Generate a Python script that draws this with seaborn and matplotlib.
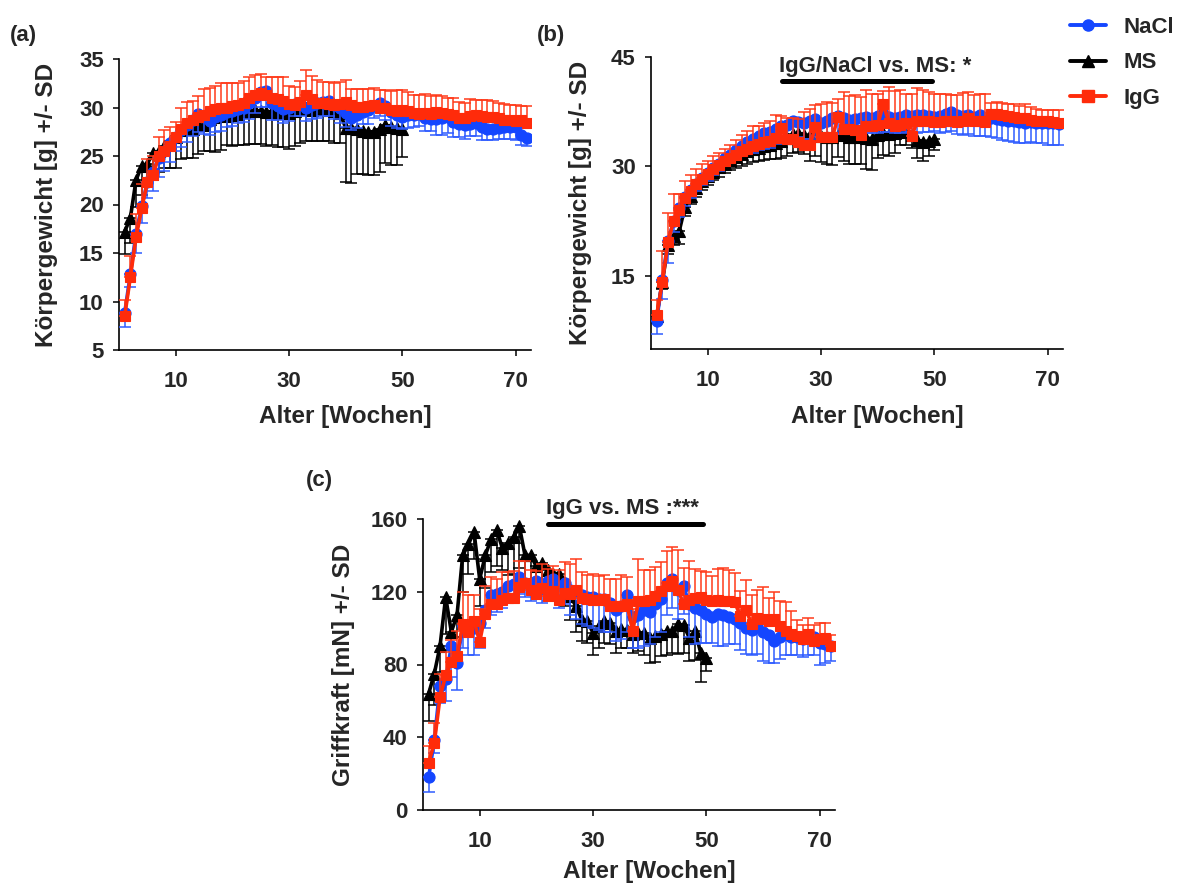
import numpy as np
import pandas as pd
import seaborn as sns
import matplotlib
matplotlib.use("Agg")
import matplotlib.pyplot as plt
from matplotlib.lines import Line2D

# ---------------- data ----------------
weeks = list(range(1, 73))
weeks_ms = list(range(1, 51))

# panel (a) body weight
a_nacl = [8.8, 12.8, 17.0, 19.8, 22.3, 23.4, 24.8, 25.5, 26.3, 27.0,
          27.7, 28.2, 28.7, 29.3, 29.0, 28.6, 29.0, 29.2, 29.5, 29.6,
          29.8, 30.0, 30.5, 31.0, 31.6, 31.7, 30.5, 30.2, 29.8, 29.9,
          30.4, 30.5, 30.0, 30.3, 30.5, 30.6, 30.7, 30.3, 29.9, 29.4,
          28.9, 29.2, 29.5, 29.7, 30.2, 30.5, 30.2, 29.5, 29.2, 29.0,
          29.2, 29.2, 29.3, 28.9, 28.8, 28.8, 28.9, 29.0, 28.5, 28.3,
          28.2, 28.3, 28.4, 28.0, 27.8, 27.8, 27.9, 28.0, 28.0, 28.0,
          27.2, 26.9]
a_nacl_err = [1.4, 1.3, 2.0, 1.7, 1.6, 2.0, 2.0, 2.0, 1.9, 1.5,
              1.8, 1.8, 1.6, 1.8, 1.7, 1.4, 1.5, 1.6, 1.5, 1.5,
              1.4, 1.5, 1.7, 1.6, 1.5, 1.6, 1.8, 1.5, 1.4, 1.3,
              1.3, 1.4, 1.4, 1.5, 1.6, 1.5, 1.6, 1.5, 1.5, 1.4,
              1.2, 1.3, 1.2, 1.4, 1.3, 1.4, 1.5, 1.4, 1.3, 1.2,
              1.3, 1.2, 1.2, 1.3, 1.2, 1.6, 1.7, 1.6, 1.5, 1.3,
              1.4, 1.2, 1.3, 1.3, 1.1, 1.2, 1.1, 1.2, 1.2, 1.3,
              1.1, 0.9]
a_ms = [17.2, 18.6, 22.5, 24.0, 24.2, 25.3, 25.5, 26.0, 26.5, 27.0,
        27.7, 28.0, 27.8, 28.2, 28.2, 28.8, 29.0, 29.2, 29.1, 29.2,
        29.3, 29.5, 29.6, 29.7, 29.6, 29.5, 29.6, 29.4, 29.5, 29.4,
        29.6, 29.8, 30.0, 29.7, 29.8, 29.8, 29.7, 29.6, 29.4, 27.9,
        27.9, 27.8, 27.6, 27.5, 27.5, 27.8, 28.2, 28.0, 27.9, 27.8]
a_ms_err = [2.3, 2.6, 2.8, 3.0, 1.8, 2.8, 2.2, 2.2, 2.7, 3.2,
            3.0, 3.2, 3.0, 3.0, 2.7, 3.3, 3.6, 3.6, 3.0, 3.2,
            3.2, 3.4, 3.4, 3.5, 3.4, 3.5, 3.5, 3.5, 3.6, 3.7,
            3.6, 3.5, 3.5, 3.2, 3.3, 3.3, 3.2, 3.3, 3.1, 5.6,
            5.7, 4.7, 4.5, 4.5, 4.5, 4.5, 3.9, 3.9, 3.8, 2.9]
a_igg = [8.5, 12.5, 16.6, 19.6, 22.3, 23.0, 25.0, 25.5, 26.0, 27.0,
         27.8, 28.4, 28.7, 29.0, 29.2, 29.6, 29.8, 30.0, 30.0, 30.2,
         30.3, 30.5, 31.0, 31.3, 31.5, 31.3, 31.0, 30.9, 30.7, 30.4,
         30.3, 30.6, 31.3, 30.9, 30.5, 30.5, 30.4, 30.3, 30.4, 30.6,
         30.3, 30.1, 30.1, 30.2, 30.3, 30.0, 29.9, 29.7, 29.6, 29.7,
         29.6, 29.4, 29.3, 29.4, 29.3, 29.5, 29.4, 29.3, 29.2, 28.9,
         28.9, 29.1, 29.2, 29.1, 29.0, 29.0, 28.9, 28.7, 28.7, 28.6,
         28.7, 28.4]
a_igg_err = [1.7, 2.2, 2.4, 2.5, 2.4, 2.0, 2.0, 2.2, 2.0, 1.5,
             2.2, 2.2, 2.0, 2.2, 2.7, 2.4, 2.4, 2.5, 2.5, 2.3,
             2.2, 2.2, 2.1, 2.1, 2.0, 1.8, 2.1, 2.2, 2.4, 1.8,
             1.8, 2.1, 2.6, 2.3, 2.3, 2.1, 2.2, 2.2, 2.2, 2.2,
             1.6, 1.8, 1.8, 1.7, 1.7, 1.8, 1.9, 2.0, 2.2, 2.1,
             2.0, 1.9, 2.0, 2.0, 1.9, 1.8, 1.8, 1.7, 1.8, 1.7,
             1.6, 1.8, 1.6, 1.7, 1.8, 1.7, 1.6, 1.7, 1.6, 1.7,
             1.5, 1.8]

# panel (b) body weight
b_nacl = [8.9, 14.5, 19.8, 22.5, 24.3, 25.8, 26.8, 27.6, 28.4, 29.1,
          29.8, 30.4, 31.1, 31.6, 32.2, 32.8, 33.3, 33.8, 34.2, 34.6,
          34.7, 35.1, 35.6, 35.7, 36.2, 36.1, 35.9, 36.2, 36.5, 36.0,
          36.3, 36.6, 36.9, 36.7, 36.4, 36.5, 36.6, 36.8, 36.6, 36.9,
          37.2, 36.8, 36.6, 36.8, 37.0, 36.9, 37.0, 37.1, 36.9, 36.8,
          36.9, 37.2, 37.4, 37.1, 36.9, 37.0, 36.8, 37.0, 36.7, 36.6,
          36.5, 36.4, 36.3, 36.2, 36.1, 36.0, 36.1, 36.0, 36.0, 35.9,
          35.9, 35.8]
b_nacl_err = [1.8, 2.6, 3.0, 1.5, 1.2, 1.2, 1.1, 1.0, 1.0, 1.1,
              1.0, 1.0, 1.0, 1.0, 1.0, 1.2, 1.5, 2.0, 2.0, 2.2,
              2.2, 2.0, 2.2, 2.0, 2.2, 2.0, 2.1, 2.4, 2.5, 2.0,
              2.3, 2.4, 2.5, 2.3, 2.0, 1.9, 2.0, 2.2, 2.0, 2.3,
              2.5, 2.1, 2.0, 2.2, 2.3, 2.3, 2.4, 2.4, 2.2, 2.0,
              2.3, 2.5, 2.6, 2.6, 2.6, 2.6, 2.6, 2.8, 2.5, 2.5,
              2.6, 2.8, 2.8, 2.8, 2.9, 2.8, 2.8, 2.8, 2.8, 2.9,
              2.9, 2.9]
b_ms = [9.5, 14.2, 19.2, 20.5, 21.2, 24.5, 26.0, 27.0, 28.0, 28.7,
        29.3, 29.9, 30.4, 30.9, 31.3, 31.7, 32.1, 32.4, 32.6, 32.8,
        33.0, 33.2, 33.5, 33.9, 34.4, 34.6, 34.3, 34.3, 34.5, 34.2,
        34.1, 34.0, 34.3, 34.4, 34.1, 34.0, 34.2, 33.9, 33.8, 34.3,
        34.6, 34.5, 34.6, 34.7, 34.8, 34.3, 33.6, 33.4, 33.5, 33.8]
b_ms_err = [1.0, 1.0, 1.2, 1.3, 1.8, 1.3, 1.2, 1.2, 1.2, 1.2,
            1.2, 1.3, 1.3, 1.4, 1.5, 1.6, 1.7, 1.8, 1.8, 1.9,
            2.0, 2.2, 2.3, 2.5, 2.6, 2.6, 2.6, 3.5, 3.0, 3.6,
            3.8, 3.8, 3.0, 3.6, 3.8, 3.6, 3.8, 4.2, 4.3, 3.2,
            3.0, 3.0, 2.8, 1.8, 1.8, 1.8, 2.5, 2.6, 2.0, 1.5]
b_igg = [9.6, 14.2, 19.6, 22.6, 24.0, 25.7, 26.7, 27.6, 28.3, 29.0,
         29.6, 30.2, 30.7, 31.2, 31.6, 32.1, 32.4, 32.8, 33.1, 33.4,
         33.5, 33.9, 35.3, 33.8, 33.7, 33.4, 32.9, 32.9, 35.4, 34.0,
         34.0, 34.0, 36.8, 35.2, 35.1, 35.0, 34.3, 35.5, 35.6, 35.7,
         38.6, 35.9, 35.5, 35.7, 35.9, 34.2, 36.2, 36.3, 36.2, 36.1,
         36.1, 36.2, 36.3, 36.1, 36.3, 36.6, 36.3, 36.2, 36.1, 37.2,
         37.2, 37.1, 36.9, 36.8, 36.6, 36.6, 36.4, 36.3, 36.2, 36.2,
         36.1, 36.0]
b_igg_err = [2.1, 4.2, 4.0, 3.7, 2.3, 2.3, 2.1, 2.0, 2.0, 1.8,
             1.8, 1.7, 1.7, 1.8, 2.0, 2.2, 2.5, 2.8, 2.5, 2.6,
             2.8, 3.2, 1.6, 2.8, 3.0, 3.1, 4.5, 5.0, 3.0, 4.5,
             4.8, 4.7, 2.5, 5.0, 4.5, 4.8, 5.2, 5.0, 4.4, 4.3,
             1.8, 5.0, 4.8, 4.8, 4.0, 5.8, 4.5, 4.2, 4.0, 3.8,
             3.8, 3.8, 3.5, 3.7, 3.8, 3.6, 3.5, 3.8, 3.8, 1.5,
             1.6, 1.6, 1.7, 1.8, 1.7, 2.0, 1.8, 1.6, 1.5, 1.6,
             1.6, 1.7]

# panel (c) grip strength
c_nacl = [18, 38.5, 68, 72, 90, 81, 101, 99, 100, 103,
          110, 118, 119, 120, 123, 124, 128, 125, 124, 126,
          124, 126, 127, 123, 125, 121, 120, 118, 117, 117,
          116, 116, 114, 110, 112, 118, 106, 107, 110, 109,
          113, 116, 125, 127, 121, 123, 113, 111, 110, 108,
          106, 108, 107, 106, 105, 103, 100, 99, 101, 98,
          96, 93, 95, 97, 95, 95, 94, 95, 95, 92,
          91, 90]
c_nacl_err = [8, 7, 9, 12, 17, 15, 12, 14, 15, 14,
              10, 11, 10, 9, 9, 9, 9, 8, 9, 8,
              10, 11, 12, 12, 12, 14, 15, 16, 16, 17,
              17, 18, 16, 17, 18, 20, 17, 18, 20, 18,
              18, 18, 18, 16, 16, 15, 18, 20, 18, 16,
              14, 18, 17, 15, 14, 15, 14, 14, 15, 16,
              15, 12, 12, 12, 10, 10, 10, 10, 10, 12,
              10, 8]
c_ms = [64, 75, 90, 117, 98, 107, 140, 146, 153, 127,
        140, 149, 154, 144, 147, 150, 156, 140, 140, 134,
        136, 132, 130, 130, 125, 117.5, 112, 104.7, 103.8, 97.4,
        101, 103.8, 103, 98.4, 99.3, 99, 96.5, 97.4, 97.4, 94.7,
        95.6, 96.5, 98.4, 98.4, 102, 101.5, 94.7, 98.4, 86.5, 83.7]
c_ms_err = [15, 17, 14, 20, 10, 12, 20, 16, 15, 15,
            18, 18, 20, 12, 18, 20, 23, 16, 16, 14,
            12, 13, 12, 12, 13, 13, 14, 12, 12, 12,
            12, 12, 12, 12, 10, 10, 10, 10, 12, 14,
            14, 12, 13, 12, 16, 15, 13, 16, 16, 7]
c_igg = [26, 37, 62, 74, 81.5, 84.5, 102, 98, 104, 92.5,
         108, 113, 113, 115.7, 116.6, 116.6, 122.7, 125, 121, 118.5,
         122, 117.6, 120.3, 115.7, 119.4, 119, 121.2, 116.6, 116, 115.7,
         115.7, 116, 112, 112, 112.4, 113, 98.4, 114.8, 114.8, 115.7,
         117.6, 120.3, 123.4, 125.8, 121.2, 113, 115.7, 116.6, 117.2, 115.7,
         114.8, 115.7, 114.8, 114.8, 114.3, 106.6, 110.2, 102, 105.7, 104.8,
         103.8, 105.1, 101, 98.4, 96.5, 95.6, 93.8, 96.5, 92.9, 93.8,
         94.7, 90.1]
c_igg_err = [9, 11, 13, 13, 12, 14, 18, 20, 14, 18,
             15, 15, 14, 15, 14, 15, 14, 12, 11, 13,
             13, 15, 14, 16, 17, 16, 17, 14, 13, 14,
             13, 13, 15, 15, 17, 15, 12, 23, 17, 16,
             16, 16, 19, 19, 22, 20, 21, 16, 14, 15,
             14, 17, 18, 17, 16, 14, 16, 16, 15, 18,
             13, 15, 14, 16, 13, 9, 8, 9, 9, 9,
             8, 6]

group_labels = ["NaCl", "MS", "IgG"]
panel_labels = ["(a)", "(b)", "(c)"]
ylabel_weight = "Körpergewicht [g] +/- SD"
ylabel_grip = "Griffkraft [mN] +/- SD"
xlabel = "Alter [Wochen]"
annot_b = "IgG/NaCl vs. MS: *"
annot_c = "IgG vs. MS :***"

# ---------------- style ----------------
sns.set_theme(style="ticks")
plt.rcParams["font.family"] = ["Liberation Sans", "DejaVu Sans"]
plt.rcParams["font.weight"] = "bold"
plt.rcParams["axes.labelweight"] = "bold"

C_NACL = "#1446ff"
C_NACL_E = "#2f5cff"
C_MS = "#000000"
C_IGG = "#ff2b0a"
C_IGG_E = "#ff3a1a"

fig = plt.figure(figsize=(11.84, 8.86), dpi=100)
W, H = 1184, 886


def add_axes(left, top, right, bottom):
    return fig.add_axes([left / W, 1 - bottom / H, (right - left) / W, (bottom - top) / H])


ax_a = add_axes(119, 59, 531, 350)
ax_b = add_axes(651, 57, 1063, 349)
ax_c = add_axes(423, 519, 835, 810)


def draw_series(ax, x, y, err, side, color, ecolor, marker, ms, z):
    err = np.asarray(err, dtype=float)
    zeros = np.zeros_like(err)
    yerr = [zeros, err] if side == "up" else [err, zeros]
    ax.errorbar(x, y, yerr=yerr, fmt="none", ecolor=ecolor, elinewidth=1.1,
                capsize=4.4, capthick=1.1, zorder=z)
    df = pd.DataFrame({"week": x, "val": y})
    sns.lineplot(data=df, x="week", y="val", ax=ax, color=color, linewidth=2.6,
                 marker=marker, markersize=ms, markeredgecolor=color,
                 markeredgewidth=0.8, zorder=z + 0.5, legend=False)


def style_axis(ax, ylim, yticks, ylabel, ylab_x, xlab_y):
    ax.set_xlim(0, 72.7)
    ax.set_ylim(*ylim)
    ax.set_xticks([10, 30, 50, 70])
    ax.set_yticks(yticks)
    ax.tick_params(axis="both", direction="out", length=4, width=1.1,
                   labelsize=16, color="black")
    ax.tick_params(axis="x", pad=11)
    ax.tick_params(axis="y", pad=7)
    for lab in ax.get_xticklabels() + ax.get_yticklabels():
        lab.set_fontweight("bold")
    sns.despine(ax=ax)
    for s in ["left", "bottom"]:
        ax.spines[s].set_linewidth(1.2)
        ax.spines[s].set_color("black")
    ax.set_xlabel(xlabel, fontsize=17.5, fontweight="bold", va="center")
    ax.xaxis.set_label_coords(40 / 72.7, xlab_y)
    ax.set_ylabel(ylabel, fontsize=17.5, fontweight="bold", va="center")
    ax.yaxis.set_label_coords(ylab_x, 0.5)
    ax.grid(False)


panels = [
    (ax_a, a_nacl, a_nacl_err, a_ms, a_ms_err, a_igg, a_igg_err),
    (ax_b, b_nacl, b_nacl_err, b_ms, b_ms_err, b_igg, b_igg_err),
    (ax_c, c_nacl, c_nacl_err, c_ms, c_ms_err, c_igg, c_igg_err),
]
for ax, n, ne, m, me, g, ge in panels:
    draw_series(ax, weeks_ms, m, me, "down", C_MS, C_MS, "^", 8, 2)
    draw_series(ax, weeks, n, ne, "down", C_NACL, C_NACL_E, "o", 8, 4)
    draw_series(ax, weeks, g, ge, "up", C_IGG, C_IGG_E, "s", 7.5, 6)

style_axis(ax_a, (5, 35), [5, 10, 15, 20, 25, 30, 35], ylabel_weight, -0.176, -0.23)
style_axis(ax_b, (5, 45), [15, 30, 45], ylabel_weight, -0.17, -0.23)
style_axis(ax_c, (0, 160), [0, 40, 80, 120, 160], ylabel_grip, -0.192, -0.212)

# significance bars
ax_b.plot([23.1, 49.6], [41.7, 41.7], color="black", lw=3.6,
          solid_capstyle="round", clip_on=False, zorder=10)
ax_b.text(39.6, 42.95, annot_b, ha="center", va="baseline", fontsize=16,
          fontweight="bold", clip_on=False)
ax_c.plot([22.0, 49.4], [157, 157], color="black", lw=3.6,
          solid_capstyle="round", clip_on=False, zorder=10)
ax_c.text(35.2, 162.7, annot_c, ha="center", va="baseline", fontsize=16,
          fontweight="bold", clip_on=False)

# panel labels
fig.text(10 / W, 1 - 35 / H, panel_labels[0], fontsize=16, fontweight="bold", va="center")
fig.text(537 / W, 1 - 35 / H, panel_labels[1], fontsize=16, fontweight="bold", va="center")
fig.text(306 / W, 1 - 480 / H, panel_labels[2], fontsize=16, fontweight="bold", va="center")

# legend
handles = [
    Line2D([], [], color=C_NACL, marker="o", markersize=8, linewidth=2.8),
    Line2D([], [], color=C_MS, marker="^", markersize=8, linewidth=2.8),
    Line2D([], [], color=C_IGG, marker="s", markersize=8, linewidth=2.8),
]
fig.legend(handles, group_labels, loc="upper left",
           bbox_to_anchor=(1070 / W, 1 - 17 / H), frameon=False,
           prop={"weight": "bold", "size": 16}, handlelength=1.6,
           handletextpad=0.8, labelspacing=0.65, borderaxespad=0.0,
           borderpad=0.0)

fig.savefig("out.png", dpi=100)
